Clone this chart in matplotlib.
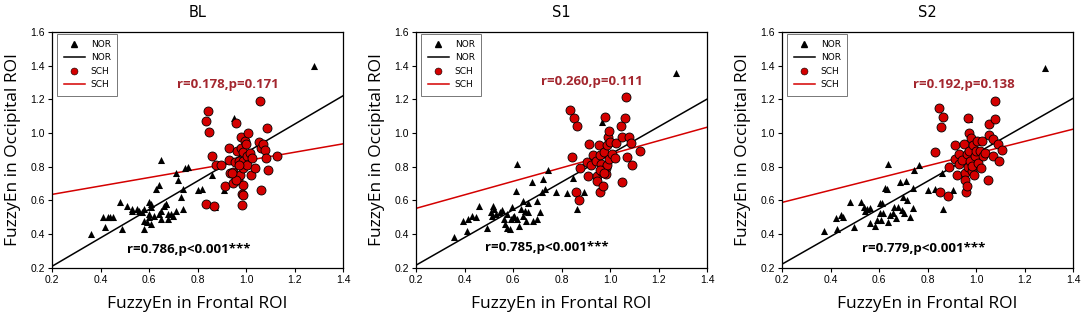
import numpy as np
import matplotlib
matplotlib.use('Agg')
import matplotlib.pyplot as plt
from matplotlib.lines import Line2D

# Panel titles and stats text
titles = ['BL', 'S1', 'S2']
nor_stats = ['r=0.786,p<0.001***', 'r=0.785,p<0.001***', 'r=0.779,p<0.001***']
sch_stats = ['r=0.178,p=0.171', 'r=0.260,p=0.111', 'r=0.192,p=0.138']

# Regression lines (intercept, slope)
nor_fit = [(0.041, 0.843), (0.052, 0.821), (0.058, 0.820)]
sch_fit = [(0.586, 0.250), (0.473, 0.401), (0.516, 0.362)]

# ---------------- BL ----------------
bl_nor_x = [0.36, 0.42, 0.41, 0.43, 0.44, 0.45, 0.48, 0.49, 0.51, 0.53, 0.53, 0.55,
            0.56, 0.58, 0.58, 0.58, 0.59, 0.60, 0.60, 0.60, 0.61, 0.61, 0.61, 0.63,
            0.64, 0.65, 0.64, 0.65, 0.65, 0.67, 0.67, 0.68, 0.68, 0.69, 0.71, 0.71,
            0.72, 0.73, 0.74, 0.74, 0.75, 0.76, 0.80, 0.82, 0.86, 0.87, 0.91, 0.95,
            1.28, 0.62, 0.57, 0.66, 0.70]
bl_nor_y = [0.40, 0.44, 0.50, 0.50, 0.50, 0.50, 0.59, 0.43, 0.57, 0.55, 0.54, 0.55,
            0.54, 0.55, 0.43, 0.48, 0.47, 0.50, 0.52, 0.59, 0.58, 0.56, 0.46, 0.67,
            0.69, 0.84, 0.52, 0.49, 0.54, 0.58, 0.58, 0.52, 0.49, 0.52, 0.54, 0.76,
            0.72, 0.62, 0.67, 0.55, 0.79, 0.80, 0.66, 0.67, 0.75, 0.56, 0.66, 1.09,
            1.40, 0.51, 0.53, 0.57, 0.51]
bl_sch_x = [0.845, 0.835, 0.849, 0.860, 0.876, 0.895, 0.835, 0.868, 0.915, 0.931,
            0.931, 0.934, 0.945, 0.948, 0.954, 0.959, 0.959, 0.964, 0.968, 0.972,
            0.975, 0.978, 0.980, 0.986, 0.989, 0.989, 0.989, 0.985, 0.985, 0.989,
            0.994, 0.998, 1.007, 1.002, 1.005, 1.016, 1.019, 1.023, 1.037, 1.055,
            1.057, 1.060, 1.063, 1.071, 1.079, 1.082, 1.085, 1.092, 1.126, 0.960,
            0.970, 0.940]
bl_sch_y = [1.129, 1.074, 1.007, 0.862, 0.813, 0.813, 0.582, 0.568, 0.683, 0.912,
            0.841, 0.764, 0.769, 0.704, 0.829, 0.734, 1.060, 0.896, 0.724, 0.833,
            0.754, 0.975, 0.912, 0.793, 0.886, 0.833, 0.694, 0.572, 0.639, 0.631,
            0.951, 0.932, 1.001, 0.862, 0.809, 0.882, 0.754, 0.853, 0.793, 0.947,
            1.189, 0.665, 0.912, 0.936, 0.902, 0.853, 1.030, 0.783, 0.862, 0.720,
            0.810, 0.760]

# ---------------- S1 ----------------
s1_nor_x = [0.355, 0.393, 0.412, 0.416, 0.429, 0.447, 0.459, 0.492, 0.510, 0.512,
            0.516, 0.522, 0.529, 0.547, 0.553, 0.563, 0.567, 0.574, 0.577, 0.588,
            0.590, 0.595, 0.599, 0.604, 0.612, 0.618, 0.615, 0.626, 0.632, 0.640,
            0.642, 0.649, 0.653, 0.663, 0.663, 0.677, 0.684, 0.697, 0.700, 0.711,
            0.718, 0.722, 0.732, 0.745, 0.777, 0.821, 0.848, 0.864, 0.893, 0.967,
            1.270]
s1_nor_y = [0.383, 0.479, 0.419, 0.489, 0.509, 0.499, 0.569, 0.437, 0.533, 0.509,
            0.565, 0.549, 0.519, 0.529, 0.545, 0.489, 0.459, 0.439, 0.519, 0.429,
            0.489, 0.559, 0.499, 0.509, 0.655, 0.818, 0.489, 0.449, 0.549, 0.509,
            0.599, 0.539, 0.479, 0.585, 0.529, 0.708, 0.479, 0.489, 0.599, 0.529,
            0.649, 0.728, 0.669, 0.778, 0.649, 0.645, 0.734, 0.549, 0.649, 1.063,
            1.357]
s1_sch_x = [0.834, 0.851, 0.864, 0.842, 0.875, 0.859, 0.872, 0.907, 0.914, 0.903,
            0.923, 0.930, 0.941, 0.947, 0.948, 0.955, 0.958, 0.958, 0.964, 0.968,
            0.971, 0.975, 0.981, 0.982, 0.984, 0.986, 0.989, 0.990, 0.995, 0.995,
            1.001, 1.008, 1.019, 1.023, 1.047, 1.048, 1.051, 1.063, 1.067, 1.071,
            1.078, 1.088, 1.092, 1.125, 0.960, 0.975]
s1_sch_y = [1.137, 1.087, 1.041, 0.858, 0.792, 0.649, 0.605, 0.748, 0.934, 0.828,
            0.808, 0.868, 0.832, 0.748, 0.718, 0.928, 0.868, 0.653, 0.818, 0.768,
            0.688, 0.888, 1.093, 0.792, 0.758, 0.808, 0.928, 0.978, 1.012, 0.848,
            0.948, 0.878, 0.852, 0.938, 1.041, 0.708, 0.974, 1.091, 1.213, 0.858,
            0.978, 0.938, 0.812, 0.892, 0.780, 0.760]

# ---------------- S2 ----------------
s2_nor_x = [0.374, 0.424, 0.426, 0.443, 0.451, 0.481, 0.495, 0.525, 0.539, 0.543,
            0.550, 0.561, 0.564, 0.584, 0.591, 0.602, 0.602, 0.607, 0.611, 0.618,
            0.625, 0.632, 0.636, 0.639, 0.646, 0.657, 0.662, 0.669, 0.680, 0.687,
            0.694, 0.698, 0.705, 0.712, 0.714, 0.728, 0.739, 0.742, 0.746, 0.765,
            0.804, 0.831, 0.860, 0.865, 0.906, 0.972, 1.284]
s2_nor_y = [0.421, 0.498, 0.431, 0.514, 0.504, 0.590, 0.445, 0.588, 0.560, 0.538,
            0.550, 0.554, 0.469, 0.449, 0.484, 0.524, 0.584, 0.484, 0.584, 0.524,
            0.674, 0.668, 0.819, 0.474, 0.514, 0.524, 0.564, 0.494, 0.564, 0.708,
            0.544, 0.618, 0.524, 0.718, 0.604, 0.504, 0.554, 0.674, 0.783, 0.809,
            0.664, 0.668, 0.763, 0.548, 0.664, 1.086, 1.385]
s2_sch_x = [0.849, 0.865, 0.856, 0.831, 0.851, 0.886, 0.887, 0.913, 0.915, 0.920,
            0.928, 0.931, 0.941, 0.952, 0.953, 0.954, 0.957, 0.961, 0.964, 0.965,
            0.968, 0.970, 0.972, 0.975, 0.978, 0.982, 0.985, 0.989, 0.992, 0.996,
            1.000, 1.002, 1.009, 1.016, 1.019, 1.023, 1.030, 1.037, 1.050, 1.053,
            1.055, 1.068, 1.071, 1.078, 1.078, 1.092, 1.096, 1.109]
s2_sch_y = [1.146, 1.096, 1.036, 0.887, 0.648, 0.624, 0.799, 0.929, 0.847, 0.753,
            0.817, 0.873, 0.843, 0.933, 0.763, 0.723, 0.648, 0.873, 0.684, 0.799,
            1.092, 0.893, 1.002, 0.833, 0.969, 0.773, 0.807, 0.929, 0.753, 0.863,
            0.893, 0.953, 0.823, 0.893, 0.793, 0.953, 0.863, 0.883, 0.723, 1.052,
            0.986, 0.863, 0.963, 1.192, 1.082, 0.937, 0.833, 0.899]

nor_x = [bl_nor_x, s1_nor_x, s2_nor_x]
nor_y = [bl_nor_y, s1_nor_y, s2_nor_y]
sch_x = [bl_sch_x, s1_sch_x, s2_sch_x]
sch_y = [bl_sch_y, s1_sch_y, s2_sch_y]

# text positions (data coords) for the stats
sch_text_pos = [(0.923, 1.29), (0.925, 1.305), (0.949, 1.29)]
nor_text_pos = [(0.762, 0.31), (0.741, 0.32), (0.784, 0.315)]

red = '#D40000'
dark_red = '#A3262E'

fig = plt.figure(figsize=(10.84, 3.22), dpi=100)
lefts = [0.048, 0.3838, 0.7214]

for i in range(3):
    ax = fig.add_axes([lefts[i], 0.168, 0.2685, 0.733])
    xs = np.array([0.2, 1.4])
    b0, b1 = nor_fit[i]
    ax.plot(xs, b0 + b1 * xs, color='black', lw=1.1, zorder=2)
    b0, b1 = sch_fit[i]
    ax.plot(xs, b0 + b1 * xs, color=red, lw=1.1, zorder=2)
    ax.scatter(nor_x[i], nor_y[i], marker='^', s=26, color='black', lw=0, zorder=3)
    ax.scatter(sch_x[i], sch_y[i], marker='o', s=42, facecolor=red,
               edgecolor='black', lw=0.6, zorder=4)

    ax.set_xlim(0.2, 1.4)
    ax.set_ylim(0.2, 1.6)
    ax.set_xticks(np.arange(0.2, 1.41, 0.2))
    ax.set_yticks(np.arange(0.2, 1.61, 0.2))
    ax.set_xticklabels(['%.1f' % v for v in np.arange(0.2, 1.41, 0.2)])
    ax.set_yticklabels(['%.1f' % v for v in np.arange(0.2, 1.61, 0.2)])
    ax.tick_params(direction='out', length=3, width=0.8, labelsize=7.5,
                   top=False, right=False, pad=2)
    for lab in ax.get_xticklabels() + ax.get_yticklabels():
        lab.set_family('Liberation Sans')
    for sp in ax.spines.values():
        sp.set_linewidth(0.9)

    ax.set_title(titles[i], fontsize=10.5, pad=11, family='DejaVu Sans')
    ax.set_xlabel('FuzzyEn in Frontal ROI', fontsize=12.5, family='Open Sans', labelpad=8)
    ax.set_ylabel('FuzzyEn in Occipital ROI', fontsize=12.5, family='Open Sans', labelpad=7)

    ax.text(sch_text_pos[i][0], sch_text_pos[i][1], sch_stats[i], color=dark_red,
            fontsize=9.5, fontweight='bold', family='Open Sans', ha='center', va='center')
    ax.text(nor_text_pos[i][0], nor_text_pos[i][1], nor_stats[i], color='black',
            fontsize=9.5, fontweight='bold', family='Open Sans', ha='center', va='center')

    handles = [Line2D([], [], marker='^', color='black', ls='none', ms=4.5),
               Line2D([], [], color='black', lw=1.1),
               Line2D([], [], marker='o', color=red, mec='black', mew=0.4, ls='none', ms=5),
               Line2D([], [], color=red, lw=1.1)]
    leg = ax.legend(handles, ['NOR', 'NOR', 'SCH', 'SCH'], loc='upper left',
                    fontsize=6.5, frameon=True, fancybox=False, handlelength=2.4,
                    borderpad=0.7, labelspacing=0.5, handletextpad=0.6,
                    borderaxespad=0, bbox_to_anchor=(0.018, 0.993))
    leg.get_frame().set_edgecolor('#555555')
    leg.get_frame().set_linewidth(0.7)

fig.savefig('out.png', dpi=100)
